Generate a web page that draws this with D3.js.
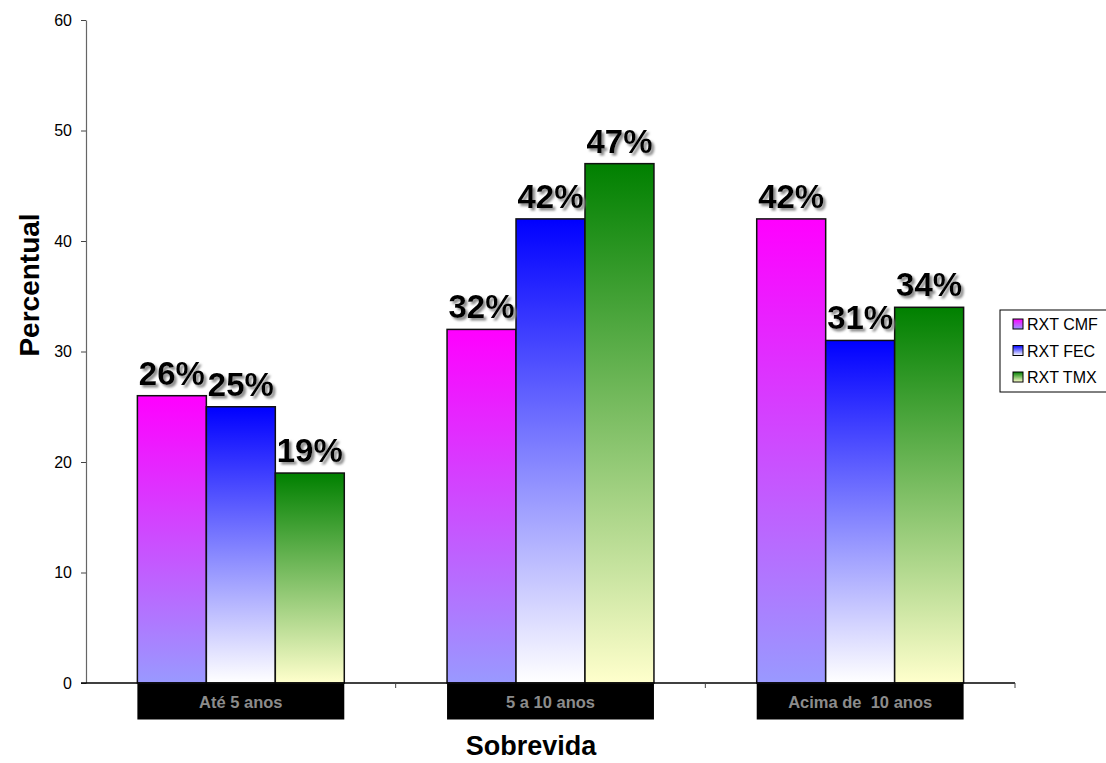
<!DOCTYPE html>
<html>
<head>
<meta charset="utf-8">
<script src="https://cdn.jsdelivr.net/npm/d3@7/dist/d3.min.js"></script>
<style>
  html, body { margin: 0; padding: 0; background: #fff; }
  svg { display: block; font-family: "Liberation Sans", Arial, sans-serif; }
</style>
</head>
<body>
<svg id="chart" width="1106" height="763"></svg>
<script>
// Survival by treatment group (percent)
const categories = ["Até 5 anos", "5 a 10 anos", "Acima de  10 anos"];
const seriesNames = ["RXT CMF", "RXT FEC", "RXT TMX"];
const cmfValues = [26, 32, 42];
const fecValues = [25, 42, 31];
const tmxValues = [19, 47, 34];
const yTicks = [0, 10, 20, 30, 40, 50, 60];

const seriesValues = [cmfValues, fecValues, tmxValues];
// gradient stops per series: top colour, bottom colour
const seriesGradients = [
  ["#ff00ff", "#9999ff"],
  ["#0000ff", "#ffffff"],
  ["#008000", "#ffffcc"]
];

const svg = d3.select("#chart");
const plot = { left: 86, right: 1015, top: 20, bottom: 683 };

const x0 = d3.scaleBand().domain(categories).range([plot.left, plot.right]).paddingInner(0).paddingOuter(0);
const x1 = d3.scaleBand().domain(seriesNames).range([0, x0.bandwidth()]).paddingInner(0).paddingOuter(0.745);
const y = d3.scaleLinear().domain([0, 60]).range([plot.bottom, plot.top]);

// gradients and label shadow
const defs = svg.append("defs");
seriesNames.forEach((name, i) => {
  const g = defs.append("linearGradient")
    .attr("id", "grad" + i)
    .attr("x1", 0).attr("y1", 0).attr("x2", 0).attr("y2", 1);
  g.append("stop").attr("offset", "0%").attr("stop-color", seriesGradients[i][0]);
  g.append("stop").attr("offset", "100%").attr("stop-color", seriesGradients[i][1]);
});
const shadow = defs.append("filter").attr("id", "dropShadow")
  .attr("x", "-20%").attr("y", "-20%").attr("width", "140%").attr("height", "140%");
shadow.append("feDropShadow")
  .attr("dx", 2.5).attr("dy", 2.5).attr("stdDeviation", 0.8)
  .attr("flood-color", "#8a8a8a").attr("flood-opacity", 1);

// y axis
const yAxis = d3.axisLeft(y).tickValues(yTicks).tickSize(5).tickSizeOuter(0).tickPadding(9);
const yG = svg.append("g").attr("transform", `translate(${plot.left},0)`).call(yAxis);
yG.select(".domain").attr("stroke", "#666").attr("stroke-width", 1.2);
yG.selectAll(".tick line").attr("stroke", "#444");
yG.selectAll(".tick text").attr("font-size", 16).attr("fill", "#000")
  .attr("font-family", "'Liberation Sans', Arial, sans-serif");

// bars
const groups = svg.append("g").selectAll("g")
  .data(categories)
  .join("g")
  .attr("transform", d => `translate(${x0(d)},0)`);

const barData = (c, ci) => seriesNames.map((s, si) => ({ s, si, v: seriesValues[si][ci] }));

groups.selectAll("rect.bar")
  .data((c, ci) => barData(c, ci))
  .join("rect")
  .attr("class", "bar")
  .attr("x", d => x1(d.s))
  .attr("y", d => y(d.v))
  .attr("width", x1.bandwidth())
  .attr("height", d => y(0) - y(d.v))
  .attr("fill", d => `url(#grad${d.si})`)
  .attr("stroke", "#111")
  .attr("stroke-width", 1.5);

// value labels
groups.selectAll("text.val")
  .data((c, ci) => barData(c, ci))
  .join("text")
  .attr("class", "val")
  .attr("x", d => x1(d.s) + x1.bandwidth() / 2)
  .attr("y", d => y(d.v) - 11)
  .attr("text-anchor", "middle")
  .attr("font-size", 33).attr("font-weight", "bold")
  .attr("fill", "#000")
  .attr("filter", "url(#dropShadow)")
  .text(d => d.v + "%");

// x axis line with boundary ticks
const xAxisG = svg.append("g");
xAxisG.append("line")
  .attr("x1", plot.left - 5).attr("x2", plot.right)
  .attr("y1", y(0)).attr("y2", y(0))
  .attr("stroke", "#000").attr("stroke-width", 1.5);
const boundaries = categories.map(c => x0(c) + x0.bandwidth());
xAxisG.selectAll("line.tick")
  .data(boundaries)
  .join("line").attr("class", "tick")
  .attr("x1", d => d).attr("x2", d => d)
  .attr("y1", y(0)).attr("y2", y(0) + 5)
  .attr("stroke", "#444").attr("stroke-width", 1);

// category labels in black boxes
const catG = svg.append("g").selectAll("g")
  .data(categories)
  .join("g")
  .attr("transform", d => `translate(${x0(d)},0)`);
catG.append("rect")
  .attr("x", x1(seriesNames[0]))
  .attr("y", y(0) + 0.5)
  .attr("width", x1.bandwidth() * 3)
  .attr("height", 36)
  .attr("fill", "#000");
catG.append("text")
  .attr("x", x0.bandwidth() / 2)
  .attr("y", y(0) + 25)
  .attr("text-anchor", "middle")
  .attr("font-size", 16.5).attr("font-weight", "bold")
  .attr("fill", "#8c8c8c")
  .attr("xml:space", "preserve")
  .style("white-space", "pre")
  .text(d => d);

// axis titles
svg.append("text")
  .attr("x", 531)
  .attr("y", 755)
  .attr("text-anchor", "middle")
  .attr("font-size", 27).attr("font-weight", "bold")
  .text("Sobrevida");
svg.append("text")
  .attr("transform", `translate(39,285) rotate(-90)`)
  .attr("text-anchor", "middle")
  .attr("font-size", 28).attr("font-weight", "bold")
  .text("Percentual");

// legend
const legend = svg.append("g").attr("transform", "translate(1000,310)");
legend.append("rect")
  .attr("x", 0).attr("y", 0).attr("width", 110).attr("height", 82)
  .attr("fill", "#fff").attr("stroke", "#000").attr("stroke-width", 1);
const li = legend.selectAll("g.item").data(seriesNames).join("g")
  .attr("class", "item")
  .attr("transform", (d, i) => `translate(13,${9 + i * 26.5})`);
li.append("rect")
  .attr("width", 10).attr("height", 10)
  .attr("fill", (d, i) => `url(#grad${i})`)
  .attr("stroke", "#000").attr("stroke-width", 1);
li.append("text")
  .attr("x", 14).attr("y", 11)
  .attr("font-size", 16)
  .text(d => d);
</script>
</body>
</html>
